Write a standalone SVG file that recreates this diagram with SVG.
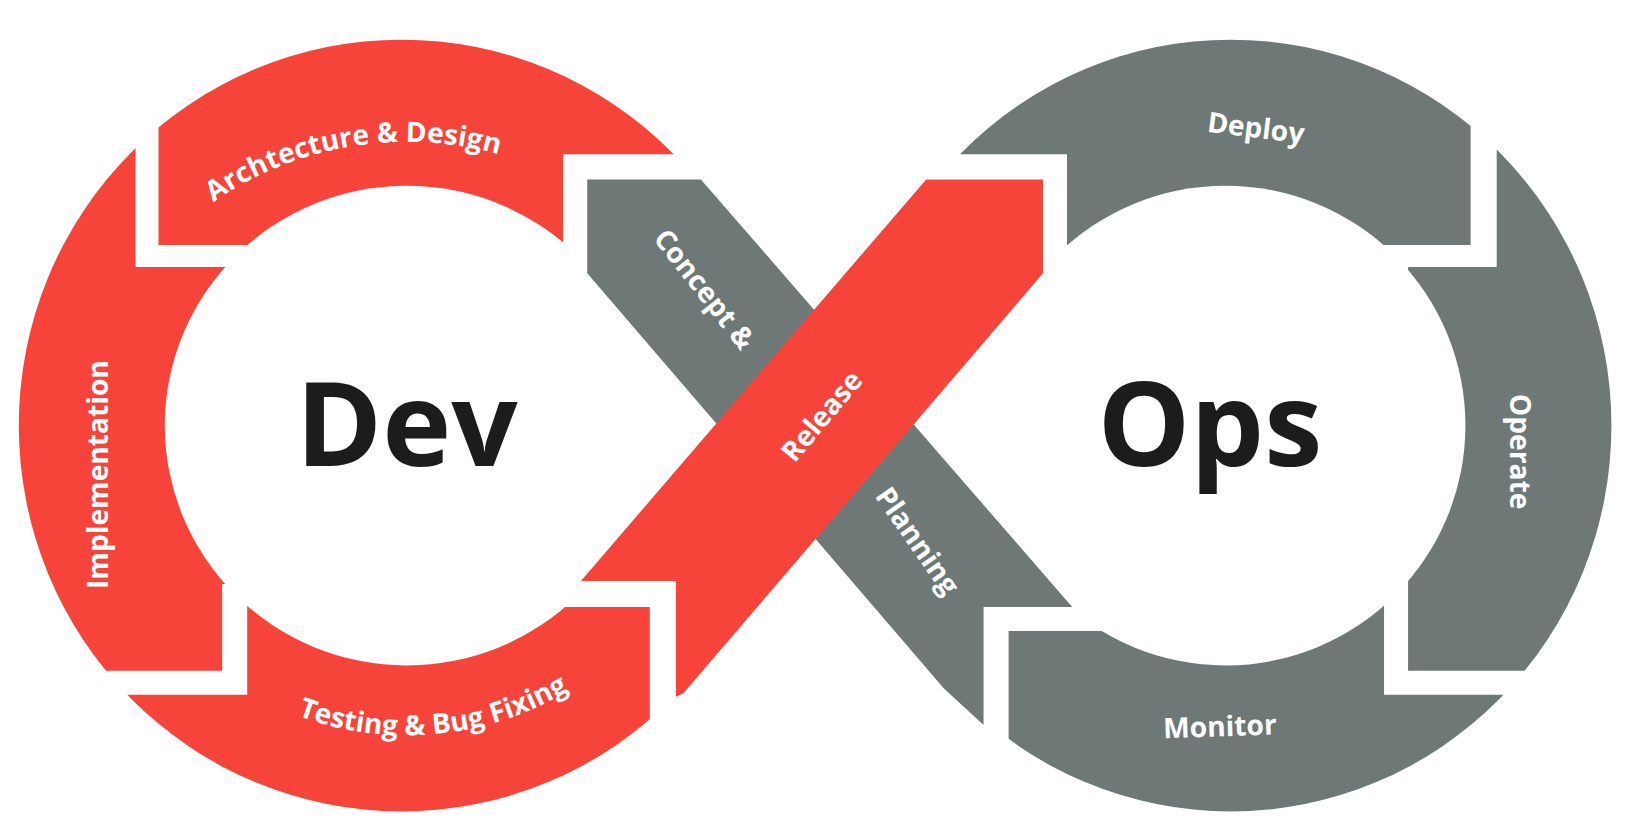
<svg xmlns="http://www.w3.org/2000/svg" width="1627" height="836" viewBox="0 0 1627 836">
<style>
.r{fill:#F7443A}.g{fill:#6E7977}.w{fill:#fff}
.lb{font-family:"Open Sans","DejaVu Sans",sans-serif;font-weight:bold;font-size:27px;fill:#fff}
.big{font-family:"Open Sans","DejaVu Sans",sans-serif;font-weight:bold;font-size:112px;fill:#1c1c1c;text-anchor:middle}
</style>
<defs>
<clipPath id="cl"><ellipse cx="385" cy="408" rx="367" ry="370"/></clipPath>
<clipPath id="cr"><ellipse cx="1180" cy="408" rx="365" ry="370"/></clipPath>
<path id="arcTop" d="M 90,408 A 300 272 0 0 1 690,408"/>
<path id="arcBot" d="M 90,408 A 300 297 0 0 0 690,408"/>
</defs>
<rect width="1627" height="836" fill="#fff"/>
<g transform="scale(1.043)">
<g id="dev-ring" clip-path="url(#cl)">
<polygon id="arch" class="r" points="152,0 700,0 700,148 540,148 540,235 152,235"/>
<polygon id="impl" class="r" points="0,0 130,0 130,256 300,256 300,560 213,560 213,643 0,643"/>
<polygon id="test" class="r" points="0,666 237,666 237,450 500,450 500,582 623,582 623,836 0,836"/>
</g>
<g id="ops-ring" clip-path="url(#cr)">
<polygon id="deploy" class="g" points="800,0 1410,0 1410,235 1023,235 1023,148 800,148"/>
<polygon id="operate" class="g" points="1435,0 1627,0 1627,643 1350,643 1350,256 1435,256"/>
<polygon id="monitor" class="g" points="967,605 1150,605 1150,500 1327,500 1327,666 1627,666 1627,836 967,836"/>
</g>
<ellipse class="w" cx="390" cy="408" rx="232" ry="230"/>
<ellipse class="w" cx="1175" cy="408" rx="230" ry="230"/>
<g id="connectors">
<polygon id="concept" class="g" points="563,172 672,172 1028,582 943,582 943,695 905,660 563,262"/>
<polygon id="release" class="r" points="888,172 1000,172 1000,262 655,665 648,668 648,557 557,557"/>
</g>
<g id="labels">
<text class="big" x="390" y="447">Dev</text>
<text class="big" x="1160" y="447">Ops</text>
<text class="lb"><textPath href="#arcTop" startOffset="44%" text-anchor="middle">Archtecture &amp; Design</textPath></text>
<text class="lb"><textPath href="#arcBot" startOffset="53%" text-anchor="middle">Testing &amp; Bug Fixing</textPath></text>
<text class="lb" text-anchor="middle" transform="translate(104,455) rotate(-90)">Implementation</text>
<text class="lb" text-anchor="middle" transform="translate(1448,433) rotate(90)">Operate</text>
<text class="lb" text-anchor="middle" transform="translate(1203,132) rotate(7)">Deploy</text>
<text class="lb" text-anchor="middle" transform="translate(1170,706) rotate(-2)">Monitor</text>
<text class="lb" text-anchor="middle" transform="translate(668,283) rotate(52)">Concept &amp;</text>
<text class="lb" text-anchor="middle" transform="translate(872,524) rotate(55)">Planning</text>
<text class="lb" text-anchor="middle" transform="translate(795,405) rotate(-50)">Release</text>
</g>
</g>
</svg>
